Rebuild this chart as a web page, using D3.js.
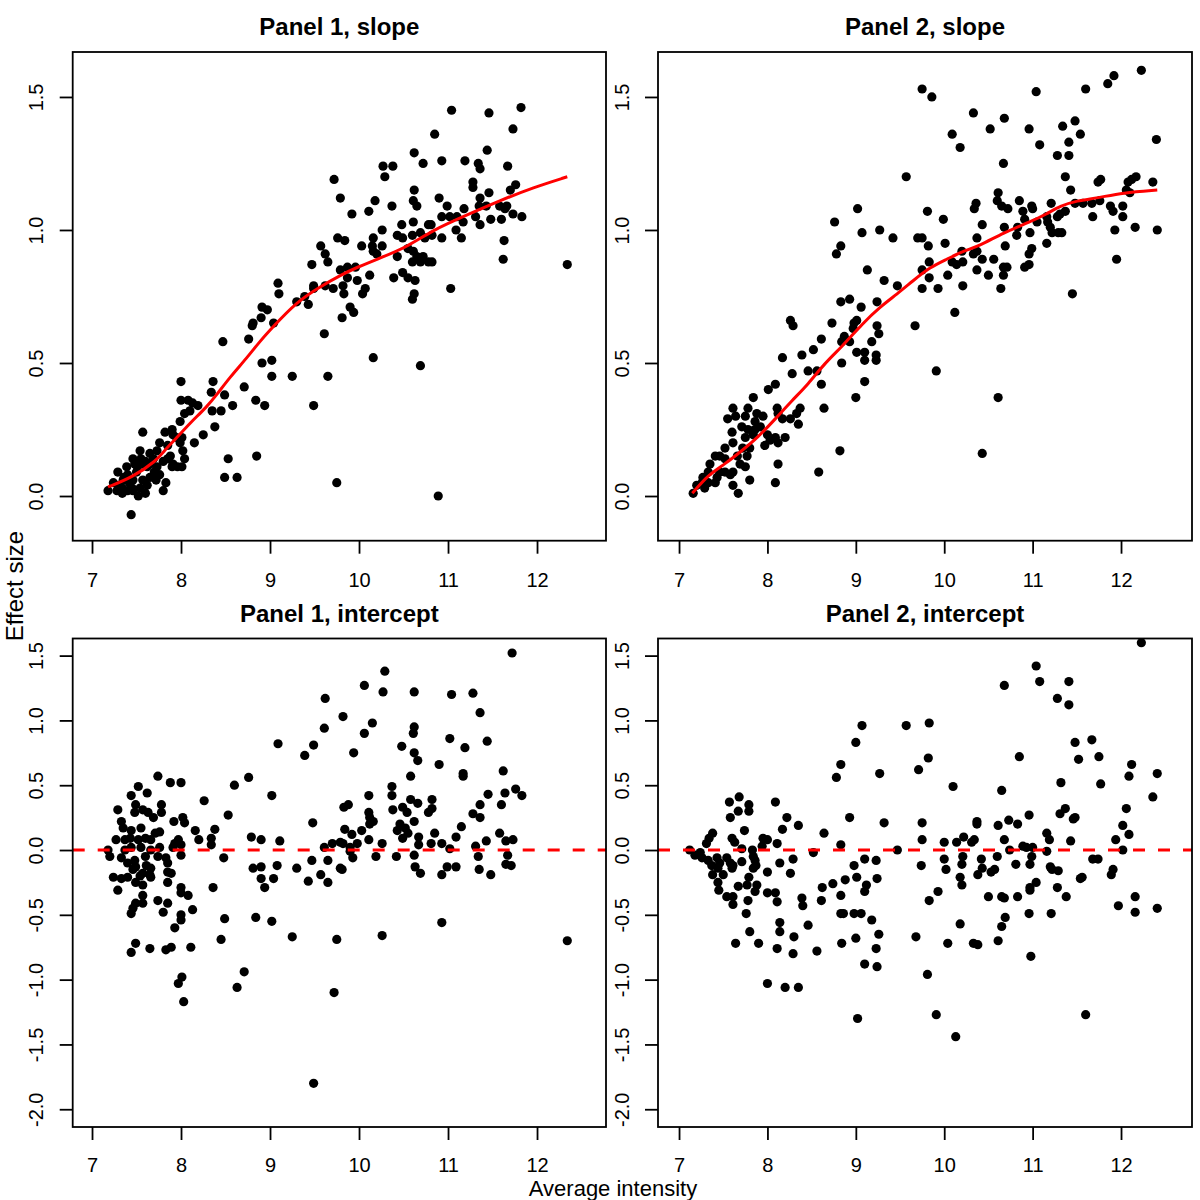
<!DOCTYPE html>
<html>
<head>
<meta charset="utf-8">
<script src="https://cdn.jsdelivr.net/npm/d3@7"></script>
<style>
  body { margin: 0; background: #fff; }
  svg { display: block; font-family: "Liberation Sans", Arial, Helvetica, sans-serif; }
</style>
</head>
<body>
<div class="page"></div>
<script>
// tick values
var xTicks = [7, 8, 9, 10, 11, 12];
var slopeTicks = [0, 0.5, 1, 1.5];
var interceptTicks = [-2, -1.5, -1, -0.5, 0, 0.5, 1, 1.5];

// panel 1, slope: [average intensity, effect size]
var p1Slope = [
  [8.47,0.58],[8.00,0.43],[8.36,0.43],[8.34,0.39],[8.49,0.38],[8.71,0.41],[8.00,0.36],[8.08,0.36],[8.13,0.35],[8.19,0.34],
  [8.10,0.32],[8.04,0.31],[8.35,0.32],[8.45,0.32],[8.58,0.34],[8.84,0.36],[7.99,0.28],[7.90,0.25],[7.82,0.24],[7.91,0.23],
  [7.57,0.24],[8.38,0.26],[8.25,0.23],[8.15,0.20],[8.01,0.22],[7.99,0.20],[8.02,0.17],[7.76,0.20],[7.73,0.17],[8.04,0.14],
  [7.88,0.15],[7.91,0.12],[8.53,0.14],[8.85,0.15],[8.49,0.07],[8.63,0.07],[7.54,0.17],[7.65,0.16],[7.46,0.14],[7.57,0.12],
  [7.69,0.14],[7.39,0.11],[7.51,0.11],[7.62,0.11],[7.73,0.11],[7.76,0.08],[7.65,0.07],[7.29,0.09],[7.35,0.06],[7.46,0.06],
  [7.57,0.06],[7.24,0.05],[7.34,0.03],[7.45,0.03],[7.54,0.03],[7.18,0.02],[7.34,0.01],[7.46,0.02],[7.60,0.01],[7.83,0.05],
  [7.80,0.02],[7.96,0.11],[8.01,0.11],[7.90,0.11],[7.85,0.14],[7.44,-0.07],
  [7.40,0.08],[7.50,0.09],[7.60,0.13],[7.70,0.09],[7.30,0.04],[7.42,0.05],[7.55,0.14],[7.65,0.12],[7.48,0.12],[7.36,0.07],
  [7.28,0.02],[7.62,0.04],[7.72,0.06],[7.80,0.13],[7.85,0.19],[7.95,0.22],[7.52,0.00],[7.40,0.02],
  [10.62,1.29],[10.72,1.25],[10.27,1.24],[10.38,1.24],[10.29,1.20],[9.72,1.19],[9.79,1.12],[10.62,1.15],[10.61,1.11],[10.65,1.09],
  [10.37,1.09],[10.18,1.11],[10.11,1.07],[9.92,1.06],[10.26,1.00],[10.48,1.02],[10.61,1.03],[10.78,1.02],[9.76,0.97],[9.84,0.96],
  [9.57,0.94],[10.03,0.94],[10.16,0.97],[10.15,0.94],[10.16,0.92],[10.20,0.91],[10.26,0.94],[10.43,0.98],[10.49,0.97],[10.60,0.98],
  [10.69,0.99],[10.74,0.97],[10.43,0.90],[10.55,0.93],[10.61,0.92],[10.65,0.90],[10.72,0.90],[10.69,0.88],[10.60,0.88],[10.78,0.88],
  [9.62,0.91],[9.65,0.88],[9.47,0.87],[9.79,0.85],[9.87,0.86],[9.96,0.86],[9.87,0.82],[9.98,0.81],[10.12,0.83],[10.07,0.78],
  [10.04,0.76],[10.39,0.82],[10.49,0.84],[10.55,0.82],[10.63,0.81],[10.62,0.76],[10.60,0.74],[9.49,0.79],[9.49,0.78],[9.62,0.79],
  [9.71,0.78],[9.82,0.79],[9.83,0.76],[9.09,0.80],[9.10,0.76],[9.39,0.75],[9.30,0.73],[9.43,0.72],[8.91,0.71],[8.97,0.70],
  [8.90,0.67],[8.81,0.65],[8.80,0.64],[9.04,0.65],[8.76,0.59],[9.90,0.71],[9.94,0.69],[9.81,0.67],[9.61,0.61],[10.16,0.52],
  [10.69,0.49],[8.91,0.50],[9.02,0.51],[9.02,0.45],[9.25,0.45],[9.65,0.45],[8.94,0.34],[9.49,0.34],[9.75,0.05],
  [11.04,1.45],[11.46,1.44],[11.82,1.46],[11.73,1.38],[10.85,1.36],[10.93,1.26],[11.19,1.26],[11.34,1.25],[11.36,1.23],[11.44,1.30],
  [11.67,1.24],[11.28,1.18],[11.28,1.16],[11.46,1.14],[11.36,1.12],[11.76,1.17],[11.70,1.15],[10.90,1.12],[10.99,1.09],[11.18,1.08],
  [11.35,1.09],[11.43,1.09],[11.58,1.09],[11.66,1.09],[11.64,1.08],[11.73,1.06],[11.83,1.05],[10.93,1.05],[11.02,1.05],[11.10,1.05],
  [11.31,1.05],[11.17,1.03],[11.48,1.04],[11.60,1.04],[11.36,1.02],[10.81,1.02],[10.82,0.98],[10.93,0.97],[11.09,1.00],[11.15,0.97],
  [11.63,0.96],[11.62,0.89],[10.82,0.88],[11.03,0.78],[12.34,0.87],[10.89,0.00]
];

// panel 2, slope
var p2Slope = [
  [8.83,0.73],[8.26,0.66],[8.29,0.64],[8.73,0.65],[8.61,0.59],[8.52,0.55],[8.39,0.53],[8.17,0.52],[8.84,0.58],[8.84,0.50],
  [8.28,0.46],[8.46,0.47],[8.56,0.47],[8.61,0.42],[8.09,0.42],[8.01,0.40],[7.84,0.37],[7.61,0.33],[7.78,0.33],[7.64,0.30],
  [7.75,0.30],[7.88,0.31],[7.95,0.30],[7.86,0.28],[7.92,0.26],[8.11,0.33],[8.12,0.31],[8.17,0.29],[8.26,0.29],[8.35,0.27],
  [8.37,0.33],[8.33,0.31],[8.64,0.33],[7.55,0.29],[7.60,0.24],[7.71,0.26],[7.78,0.25],[7.75,0.22],[7.84,0.23],[7.86,0.25],
  [8.00,0.23],[7.97,0.19],[8.03,0.21],[8.09,0.22],[8.12,0.20],[8.20,0.22],[7.52,0.18],[7.61,0.20],[7.66,0.15],[7.72,0.18],
  [7.80,0.18],[7.77,0.15],[7.41,0.15],[7.46,0.15],[7.35,0.12],[7.52,0.14],[7.69,0.12],[7.75,0.11],[7.61,0.09],[7.46,0.09],
  [7.43,0.07],[7.52,0.09],[7.33,0.09],[7.27,0.07],[7.26,0.05],[7.33,0.05],[7.41,0.05],[7.58,0.08],[7.20,0.04],[7.29,0.03],
  [7.16,0.01],[7.61,0.04],[7.67,0.01],[7.80,0.06],[8.09,0.05],[8.12,0.12],[8.58,0.09],[8.82,0.17],
  [9.75,1.53],[9.86,1.50],[10.33,1.44],[10.68,1.42],[10.52,1.38],[10.09,1.36],[10.18,1.31],[10.67,1.25],[9.57,1.20],[10.61,1.14],
  [10.60,1.11],[10.65,1.09],[10.72,1.08],[10.36,1.10],[10.34,1.08],[9.02,1.08],[9.81,1.07],[9.99,1.04],[8.76,1.03],[10.43,1.02],
  [10.68,1.01],[9.07,0.99],[9.27,1.00],[9.42,0.97],[9.70,0.97],[9.75,0.97],[9.82,0.94],[10.01,0.95],[10.37,0.97],[10.69,0.94],
  [8.83,0.94],[8.78,0.91],[10.20,0.92],[10.33,0.91],[10.37,0.92],[10.43,0.89],[10.09,0.88],[10.14,0.87],[10.21,0.88],[10.56,0.89],
  [9.83,0.88],[9.75,0.85],[9.83,0.82],[10.04,0.83],[9.13,0.85],[9.32,0.81],[9.47,0.79],[10.37,0.85],[10.50,0.83],[10.67,0.86],
  [10.67,0.83],[10.71,0.86],[9.75,0.78],[9.93,0.78],[10.21,0.79],[10.64,0.78],[8.93,0.74],[9.06,0.71],[9.24,0.73],[10.12,0.69],
  [8.98,0.65],[9.01,0.66],[8.97,0.63],[9.24,0.64],[9.26,0.61],[9.18,0.58],[9.67,0.64],[8.87,0.60],[8.93,0.58],[9.01,0.54],
  [9.10,0.54],[9.10,0.51],[9.23,0.53],[9.23,0.51],[9.10,0.43],[9.91,0.47],[9.00,0.37],[10.61,0.37],[10.43,0.16],
  [12.23,1.60],[11.92,1.58],[11.85,1.55],[11.60,1.53],[11.04,1.52],[10.96,1.38],[11.34,1.39],[11.48,1.41],[11.54,1.36],[11.41,1.33],
  [11.08,1.32],[11.41,1.28],[11.28,1.28],[12.40,1.34],[11.37,1.20],[11.43,1.15],[11.74,1.18],[11.77,1.19],[12.08,1.18],[12.12,1.19],
  [12.17,1.20],[12.36,1.18],[12.06,1.15],[12.10,1.14],[10.85,1.11],[10.99,1.09],[10.89,1.07],[11.00,1.08],[10.91,1.04],[10.97,0.99],
  [11.21,1.10],[11.48,1.10],[11.57,1.10],[11.67,1.10],[11.76,1.11],[11.88,1.09],[11.91,1.07],[12.02,1.09],[12.02,1.05],[11.16,1.05],
  [11.20,1.01],[11.17,1.03],[11.28,1.05],[11.31,1.06],[11.37,1.07],[11.29,0.99],[11.33,0.99],[11.22,0.99],[11.05,1.03],[10.83,1.01],
  [10.82,0.98],[11.68,1.05],[11.93,1.00],[12.16,1.01],[12.41,1.00],[11.16,0.95],[10.99,0.93],[10.96,0.91],[10.96,0.87],[10.91,0.86],
  [11.95,0.89],[11.45,0.76]
];

// panel 1, intercept
var p1Intercept = [
  [7.74,0.57],[7.88,0.52],[8.00,0.52],[7.52,0.49],[7.62,0.44],[7.44,0.42],[8.60,0.50],[8.76,0.56],[8.26,0.38],[7.49,0.35],
  [7.29,0.31],[7.48,0.29],[7.57,0.31],[7.63,0.29],[7.78,0.35],[7.78,0.29],[8.53,0.27],[7.69,0.25],[7.33,0.22],[7.92,0.22],
  [8.02,0.25],[8.04,0.21],[7.35,0.17],[7.44,0.15],[7.55,0.17],[7.76,0.14],[7.71,0.13],[8.16,0.15],[8.38,0.16],[7.27,0.08],
  [7.37,0.08],[7.43,0.09],[7.52,0.08],[7.60,0.09],[7.66,0.08],[8.20,0.08],[8.34,0.09],[8.34,0.04],[7.97,0.08],[8.00,0.04],
  [7.93,0.05],[8.79,0.10],[8.90,0.08],[7.18,0.00],[7.37,0.00],[7.44,0.02],[7.55,0.02],[7.66,0.00],[7.76,0.02],[7.91,0.02],
  [7.20,-0.05],[7.33,-0.06],[7.48,-0.08],[7.60,-0.05],[7.74,-0.05],[7.83,-0.06],[8.00,-0.04],[8.48,-0.06],[7.40,-0.10],[7.49,-0.13],
  [7.61,-0.12],[7.66,-0.14],[7.85,-0.10],[7.46,-0.15],[7.57,-0.18],[7.65,-0.19],[7.85,-0.17],[7.89,-0.18],[8.81,-0.14],[8.90,-0.13],
  [7.24,-0.21],[7.33,-0.22],[7.40,-0.21],[7.54,-0.20],[7.66,-0.21],[7.29,-0.31],[7.49,-0.25],[7.57,-0.27],[7.85,-0.25],[8.90,-0.22],
  [8.94,-0.29],[8.36,-0.29],[8.00,-0.29],[8.00,-0.33],[8.08,-0.35],[7.57,-0.35],[7.49,-0.41],[7.46,-0.45],[7.57,-0.41],[7.44,-0.49],
  [7.74,-0.39],[7.85,-0.41],[7.80,-0.48],[8.13,-0.46],[8.00,-0.50],[8.00,-0.54],[8.49,-0.53],[8.84,-0.52],[7.93,-0.60],[8.45,-0.69],
  [7.49,-0.72],[7.44,-0.79],[7.65,-0.76],[7.83,-0.77],[7.89,-0.75],[8.11,-0.75],[8.71,-0.94],[8.63,-1.06],[8.01,-0.98],[7.97,-1.03],
  [8.03,-1.17],
  [11.72,1.52],[10.29,1.38],[10.06,1.27],[10.27,1.22],[10.62,1.22],[11.04,1.20],[11.28,1.21],[9.62,1.17],[11.36,1.06],[9.82,1.03],
  [10.15,0.98],[9.61,0.94],[10.62,0.95],[10.61,0.90],[10.06,0.90],[11.02,0.86],[11.44,0.84],[9.09,0.82],[9.49,0.81],[9.39,0.73],
  [9.94,0.75],[10.48,0.80],[11.19,0.79],[10.62,0.75],[10.66,0.69],[10.90,0.66],[11.17,0.59],[11.17,0.57],[11.62,0.61],[10.58,0.57],
  [10.37,0.49],[10.37,0.42],[9.02,0.42],[10.11,0.42],[9.83,0.33],[9.88,0.35],[11.76,0.47],[11.83,0.42],[11.45,0.43],[11.64,0.44],
  [11.60,0.35],[10.58,0.39],[10.66,0.36],[10.82,0.39],[10.38,0.31],[10.49,0.33],[10.54,0.29],[10.78,0.29],[10.82,0.32],[11.36,0.35],
  [11.28,0.28],[11.36,0.25],[10.11,0.29],[10.12,0.25],[10.12,0.20],[10.16,0.22],[11.15,0.18],[11.09,0.10],[10.62,0.22],[10.46,0.20],
  [10.43,0.15],[10.52,0.17],[10.55,0.13],[10.49,0.09],[9.48,0.21],[9.84,0.16],[9.92,0.12],[10.03,0.15],[10.85,0.13],[11.58,0.13],
  [11.65,0.07],[11.73,0.08],[11.43,0.07],[9.11,0.07],[9.61,0.02],[9.70,0.05],[9.79,0.06],[9.82,0.05],[9.90,0.02],[9.98,0.05],
  [10.11,0.08],[10.26,0.05],[10.67,0.10],[10.67,0.04],[10.81,0.05],[10.93,0.05],[11.02,0.01],[11.31,0.03],[9.90,-0.01],[9.93,-0.06],
  [10.19,-0.05],[10.42,-0.05],[10.62,-0.04],[11.34,-0.05],[11.67,-0.04],[9.08,-0.12],[9.47,-0.08],[9.65,-0.08],[10.99,-0.13],[11.09,-0.13],
  [11.65,-0.11],[11.71,-0.12],[9.30,-0.14],[9.79,-0.14],[9.81,-0.15],[10.63,-0.13],[10.69,-0.18],[11.35,-0.15],[9.04,-0.22],[9.43,-0.24],
  [9.57,-0.19],[9.65,-0.25],[10.93,-0.19],[11.48,-0.19],[9.02,-0.55],[10.93,-0.56],[9.25,-0.67],[9.75,-0.69],[10.26,-0.66],[12.34,-0.70],
  [9.72,-1.10],[9.49,-1.80]
];

// panel 2, intercept
var p2Intercept = [
  [8.83,0.66],[8.78,0.56],[7.57,0.37],[7.68,0.41],[7.79,0.35],[7.67,0.30],[7.79,0.30],[7.58,0.25],[8.09,0.37],[8.22,0.25],
  [8.35,0.19],[8.17,0.16],[8.93,0.25],[7.74,0.15],[8.64,0.13],[7.38,0.13],[7.34,0.09],[7.31,0.05],[7.60,0.09],[7.63,0.06],
  [7.95,0.09],[8.00,0.08],[7.94,0.03],[8.11,0.05],[8.83,0.04],[7.12,0.00],[7.24,-0.02],[7.18,-0.04],[7.26,-0.06],[8.52,-0.02],
  [7.71,0.01],[7.83,0.00],[7.71,-0.09],[7.84,-0.05],[7.86,-0.08],[7.33,-0.08],[7.43,-0.06],[7.54,-0.06],[7.58,-0.10],[7.46,-0.10],
  [7.37,-0.12],[7.87,-0.12],[7.84,-0.14],[8.29,-0.07],[8.14,-0.10],[8.26,-0.18],[8.00,-0.17],[7.44,-0.14],[7.38,-0.19],[7.50,-0.19],
  [7.60,-0.14],[7.61,-0.12],[8.98,-0.12],[9.01,-0.21],[7.44,-0.25],[7.79,-0.21],[8.88,-0.23],[7.77,-0.27],[7.67,-0.28],[7.88,-0.27],
  [7.86,-0.32],[7.45,-0.31],[7.54,-0.36],[7.61,-0.36],[7.61,-0.42],[8.00,-0.33],[8.09,-0.33],[8.11,-0.40],[8.62,-0.29],[8.74,-0.26],
  [7.78,-0.39],[8.39,-0.37],[8.40,-0.43],[8.61,-0.39],[8.83,-0.35],[8.83,-0.49],[8.86,-0.49],[8.98,-0.49],[7.76,-0.49],[8.14,-0.56],
  [8.14,-0.63],[8.46,-0.58],[7.80,-0.63],[8.30,-0.67],[9.00,-0.68],[7.64,-0.72],[7.90,-0.72],[8.11,-0.76],[8.29,-0.80],[8.56,-0.78],
  [8.84,-0.72],[8.00,-1.03],[8.20,-1.06],[8.35,-1.06],
  [12.23,1.60],[11.04,1.42],[11.08,1.30],[11.41,1.30],[11.28,1.17],[11.41,1.12],[10.68,1.27],[9.07,0.96],[9.57,0.96],[9.83,0.98],
  [9.00,0.83],[11.48,0.83],[11.67,0.85],[9.82,0.71],[9.71,0.62],[10.85,0.72],[11.52,0.70],[11.75,0.72],[12.12,0.66],[12.09,0.57],
  [12.41,0.59],[9.27,0.59],[11.32,0.52],[11.77,0.51],[10.10,0.49],[10.65,0.46],[12.36,0.41],[12.06,0.32],[11.37,0.32],[11.31,0.28],
  [10.96,0.27],[11.46,0.24],[11.48,0.25],[10.37,0.22],[10.37,0.20],[10.61,0.19],[10.73,0.23],[10.83,0.20],[9.32,0.21],[9.75,0.21],
  [12.02,0.19],[12.09,0.12],[11.16,0.13],[11.19,0.08],[10.68,0.08],[11.43,0.07],[11.94,0.08],[10.00,0.06],[10.14,0.06],[10.22,0.10],
  [10.34,0.08],[10.31,0.06],[9.75,0.08],[9.47,0.00],[10.74,0.00],[10.89,0.03],[10.93,0.02],[11.00,0.02],[11.16,-0.01],[12.02,0.00],
  [10.60,-0.05],[10.99,-0.05],[9.10,-0.07],[9.23,-0.08],[9.74,-0.12],[10.00,-0.07],[10.02,-0.15],[10.21,-0.05],[10.20,-0.11],[10.42,-0.07],
  [10.43,-0.14],[10.38,-0.19],[10.53,-0.17],[10.57,-0.15],[10.81,-0.11],[10.97,-0.11],[11.20,-0.13],[11.22,-0.15],[11.29,-0.16],[11.68,-0.07],
  [11.74,-0.07],[11.91,-0.15],[11.89,-0.19],[9.24,-0.22],[9.12,-0.27],[9.10,-0.32],[10.18,-0.21],[10.20,-0.27],[11.54,-0.22],[11.56,-0.21],
  [9.93,-0.32],[9.83,-0.39],[10.50,-0.36],[10.65,-0.36],[10.68,-0.37],[10.83,-0.36],[10.97,-0.29],[10.97,-0.31],[11.04,-0.25],[11.28,-0.29],
  [11.38,-0.36],[12.16,-0.36],[11.97,-0.43],[12.16,-0.48],[12.41,-0.45],[9.06,-0.49],[10.96,-0.49],[11.21,-0.49],[9.18,-0.54],[10.69,-0.52],
  [10.65,-0.59],[10.18,-0.57],[9.26,-0.65],[9.68,-0.67],[10.04,-0.72],[10.33,-0.72],[10.38,-0.73],[10.61,-0.70],[9.23,-0.76],[10.98,-0.82],
  [9.10,-0.88],[9.24,-0.90],[9.81,-0.96],[9.02,-1.30],[9.91,-1.27],[11.60,-1.27],[10.13,-1.44]
];

// smooth fits (red lines) for the slope panels
var p1SlopeFit = [
  [7.18,0.034],[7.46,0.071],[7.73,0.135],[7.79,0.162],[7.96,0.222],[8.10,0.274],[8.29,0.335],[8.40,0.380],[8.55,0.447],[8.74,0.519],
  [8.87,0.575],[9.03,0.635],[9.30,0.73],[9.56,0.786],[9.79,0.83],[9.98,0.86],[10.24,0.895],[10.54,0.936],[10.83,1.00],[11.21,1.056],
  [11.58,1.11],[11.96,1.16],[12.34,1.20]
];
var p2SlopeFit = [
  [7.15,0.01],[7.33,0.08],[7.52,0.12],[7.71,0.17],[7.89,0.22],[8.09,0.29],[8.28,0.36],[8.46,0.42],[8.65,0.50],[8.84,0.56],
  [9.08,0.65],[9.27,0.71],[9.47,0.76],[9.65,0.81],[9.84,0.86],[10.03,0.89],[10.21,0.92],[10.40,0.94],[10.67,0.99],[10.97,1.03],
  [11.16,1.06],[11.31,1.09],[11.50,1.11],[11.73,1.12],[12.02,1.14],[12.41,1.15]
];

var panels = [
  {title: 'Panel 1, slope', pts: p1Slope, fit: p1SlopeFit, zero: false, yTicks: slopeTicks, pad: 19,
   left: 72.7, right: 606, top: 52, bottom: 540.7, xd: [6.783, 12.775], yd: [-0.168, 1.669]},
  {title: 'Panel 2, slope', pts: p2Slope, fit: p2SlopeFit, zero: false, yTicks: slopeTicks, pad: 19,
   left: 658, right: 1192, top: 52, bottom: 540.7, xd: [6.762, 12.803], yd: [-0.168, 1.669]},
  {title: 'Panel 1, intercept', pts: p1Intercept, fit: null, zero: true, yTicks: interceptTicks, pad: 17.5,
   left: 72.7, right: 606, top: 638.5, bottom: 1127, xd: [6.783, 12.775], yd: [-2.137, 1.632]},
  {title: 'Panel 2, intercept', pts: p2Intercept, fit: null, zero: true, yTicks: interceptTicks, pad: 17.5,
   left: 658, right: 1192, top: 638.5, bottom: 1127, xd: [6.762, 12.803], yd: [-2.137, 1.632]}
];

var svg = d3.select('.page').append('svg')
  .attr('width', 1200)
  .attr('height', 1200);

svg.append('rect').attr('width', 1200).attr('height', 1200).attr('fill', '#fff');

panels.forEach(function(p, i) {
  var x = d3.scaleLinear().domain(p.xd).range([p.left, p.right]);
  var y = d3.scaleLinear().domain(p.yd).range([p.bottom, p.top]);

  svg.append('clipPath').attr('id', 'clip' + i)
    .append('rect')
    .attr('x', p.left).attr('y', p.top)
    .attr('width', p.right - p.left).attr('height', p.bottom - p.top);

  var plot = svg.append('g').attr('clip-path', 'url(#clip' + i + ')');

  plot.selectAll('circle').data(p.pts)
    .enter()
    .append('circle')
    .attr('cx', function(d) { return x(d[0]); })
    .attr('cy', function(d) { return y(d[1]); })
    .attr('r', 4.6)
    .attr('fill', '#000');

  if (p.fit) {
    var line = d3.line()
      .x(function(d) { return x(d[0]); })
      .y(function(d) { return y(d[1]); })
      .curve(d3.curveBasis);
    plot.append('path')
      .datum(p.fit)
      .attr('d', line)
      .attr('fill', 'none')
      .attr('stroke', '#f00')
      .attr('stroke-width', 3);
  }

  if (p.zero) {
    plot.append('line')
      .attr('x1', p.left).attr('x2', p.right)
      .attr('y1', y(0)).attr('y2', y(0))
      .attr('stroke', '#f00')
      .attr('stroke-width', 3)
      .attr('stroke-dasharray', '12,13');
  }

  // frame
  svg.append('rect')
    .attr('x', p.left).attr('y', p.top)
    .attr('width', p.right - p.left).attr('height', p.bottom - p.top)
    .attr('fill', 'none')
    .attr('stroke', '#000')
    .attr('stroke-width', 1.8);

  // x axis, R style
  var xAxis = d3.axisBottom(x)
    .tickValues(xTicks)
    .tickSize(13)
    .tickPadding(p.pad)
    .tickFormat(d3.format('d'));
  var gx = svg.append('g')
    .attr('transform', 'translate(0,' + p.bottom + ')')
    .call(xAxis);
  gx.select('.domain').remove();
  gx.selectAll('line').attr('stroke', '#000').attr('stroke-width', 1.8);
  gx.selectAll('text')
    .attr('fill', '#000')
    .style('font-size', '20px')
    .style('font-family', '"Liberation Sans", Arial, sans-serif');

  // y axis, labels turned like R
  var yAxis = d3.axisLeft(y)
    .tickValues(p.yTicks)
    .tickSize(13)
    .tickFormat(function(d) { return d.toFixed(1); });
  var gy = svg.append('g')
    .attr('transform', 'translate(' + p.left + ',0)')
    .call(yAxis);
  gy.select('.domain').remove();
  gy.selectAll('line').attr('stroke', '#000').attr('stroke-width', 1.8);
  gy.selectAll('text')
    .attr('fill', '#000')
    .attr('x', 0)
    .attr('y', -29.5)
    .attr('dy', null)
    .attr('transform', 'rotate(-90)')
    .attr('text-anchor', 'middle')
    .style('font-size', '20px')
    .style('font-family', '"Liberation Sans", Arial, sans-serif');

  svg.append('text')
    .text(p.title)
    .attr('x', (p.left + p.right) / 2)
    .attr('y', p.top - 17)
    .attr('text-anchor', 'middle')
    .style('font-size', '24px')
    .style('font-weight', 'bold');
});

svg.append('text')
  .text('Effect size')
  .attr('transform', 'translate(23,586) rotate(-90)')
  .attr('text-anchor', 'middle')
  .style('font-size', '24px');

svg.append('text')
  .text('Average intensity')
  .attr('x', 613)
  .attr('y', 1196)
  .attr('text-anchor', 'middle')
  .style('font-size', '22px');
</script>
</body>
</html>
